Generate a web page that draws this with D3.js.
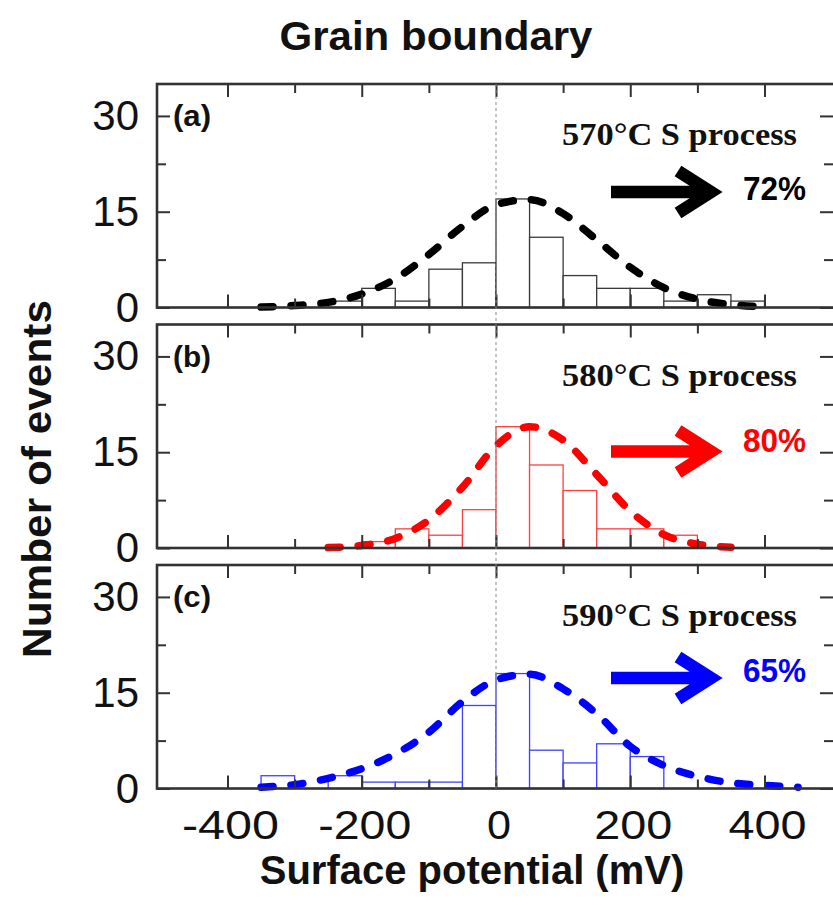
<!DOCTYPE html>
<html>
<head>
<meta charset="utf-8">
<script src="https://cdn.jsdelivr.net/npm/d3@7"></script>
<style>
  body { margin: 0; background: #fff; }
  svg { display: block; }
</style>
</head>
<body>
<script>
// histograms: 50 mV bins, value = number of events in the bin starting at binStart
const binStartA = [-250, -200, -150, -100, -50, 0, 50, 100, 150, 200, 250, 300, 350];
const countsA   = [1, 3, 1, 6, 7, 17, 11, 5, 3, 3, 1, 2, 1];
const binStartB = [-200, -150, -100, -50, 0, 50, 100, 150, 200, 250];
const countsB   = [1, 3, 2, 6, 19, 13, 9, 3, 3, 2];
const binStartC = [-350, -300, -250, -200, -150, -100, -50, 0, 50, 100, 150, 200];
const countsC   = [2, 0, 2, 1, 1, 1, 13, 18, 6, 4, 7, 5];

// dashed fit curves
const fitXA = [-350, -300, -250, -200, -150, -100, -50, 0, 50, 100, 150, 200, 250, 300, 350, 400];
const fitYA = [0.06, 0.3, 0.8, 2.1, 4.5, 8.3, 12.7, 16.1, 16.9, 14.7, 10.6, 6.3, 3.1, 1.3, 0.45, 0.1];
const fitXB = [-250, -200, -150, -100, -50, 0, 50, 100, 150, 200, 250, 300, 350];
const fitYB = [0.07, 0.4, 1.5, 4.4, 9.5, 16.0, 19.0, 16.9, 11.5, 5.8, 2.1, 0.6, 0.12];
const fitXC = [-350, -300, -250, -200, -150, -100, -50, 0, 50, 100, 150, 200, 250, 300, 350, 400, 450];
const fitYC = [0.2, 0.6, 1.6, 3.1, 5.4, 8.8, 13.6, 17.0, 17.9, 15.6, 11.7, 6.6, 3.6, 1.9, 0.9, 0.5, 0.2];

const panelLabels   = ["(a)", "(b)", "(c)"];
const processLabels = ["570°C S process", "580°C S process", "590°C S process"];
const percentLabels = ["72%", "80%", "65%"];

const xTickLabels = [-400, -200, 0, 200, 400];
const xTickAll    = [-400, -300, -200, -100, 0, 100, 200, 300, 400];
const yTickLabels = [0, 15, 30];
const yTickAll    = [0, 7.5, 15, 22.5, 30];

const binWidth = 50;

const width = 833, height = 905;
const left = 157, right = 835;
const panelTops = [84, 324.5, 565];
const panelH = 223.5;

const colors    = ["#000000", "#ff0000", "#0000ff"];
const barColors = ["#3a3a3a", "#ff4040", "#4040ff"];
const arrowDy   = [108, 127, 113];
const pctDy     = [116, 127, 117];

const panels = [
  { bins: binStartA, counts: countsA, fx: fitXA, fy: fitYA },
  { bins: binStartB, counts: countsB, fx: fitXB, fy: fitYB },
  { bins: binStartC, counts: countsC, fx: fitXC, fy: fitYC }
];

const svg = d3.select("body").append("svg")
  .attr("width", width)
  .attr("height", height);

const x = d3.scaleLinear().domain([-505, 505]).range([left, right]);

const sans = "Arial, 'Liberation Sans', sans-serif";
const serif = "'Times New Roman', 'Liberation Serif', serif";

panels.forEach((p, i) => {
  const top = panelTops[i], bottom = top + panelH;
  const y = d3.scaleLinear().domain([0, 35]).range([bottom, top]);
  const g = svg.append("g");

  const bars = p.bins.map((b, k) => ({ start: b, n: p.counts[k] })).filter(d => d.n > 0);
  g.selectAll("rect.bar")
    .data(bars)
    .join("rect")
    .attr("class", "bar")
    .attr("x", d => x(d.start))
    .attr("width", d => x(d.start + binWidth) - x(d.start))
    .attr("y", d => y(d.n))
    .attr("height", d => y(0) - y(d.n))
    .attr("fill", "#fff")
    .attr("stroke", barColors[i])
    .attr("stroke-width", 1.3);

  // fit curve
  const line = d3.line()
    .x(d => x(d[0]))
    .y(d => y(d[1]))
    .curve(d3.curveMonotoneX);
  g.append("path")
    .datum(p.fx.map((v, k) => [v, p.fy[k]]))
    .attr("d", line)
    .attr("fill", "none")
    .attr("stroke", colors[i])
    .attr("stroke-width", 7.5)
    .attr("stroke-linecap", "round")
    .attr("stroke-dasharray", "12,18");

  // ticks, all pointing inward
  const tickLen = (v, major) => (major.includes(v) ? 13 : 9);
  const xb = g.append("g").attr("transform", `translate(0,${bottom})`)
    .call(d3.axisBottom(x).tickValues(xTickAll).tickSize(-13).tickFormat(""));
  const xt = g.append("g").attr("transform", `translate(0,${top})`)
    .call(d3.axisTop(x).tickValues(xTickAll).tickSize(-13).tickFormat(""));
  [xb, xt].forEach((ax, j) => {
    ax.select(".domain").remove();
    ax.selectAll(".tick line")
      .attr("y2", d => (j === 0 ? -1 : 1) * tickLen(d, xTickLabels))
      .attr("stroke", "#333").attr("stroke-width", 2);
  });
  const yl = g.append("g").attr("transform", `translate(${left},0)`)
    .call(d3.axisLeft(y).tickValues(yTickAll).tickSize(-13).tickFormat(""));
  const yr = g.append("g").attr("transform", `translate(${right},0)`)
    .call(d3.axisRight(y).tickValues(yTickAll).tickSize(-15).tickFormat(""));
  [yl, yr].forEach((ax, j) => {
    ax.select(".domain").remove();
    ax.selectAll(".tick line")
      .attr("x2", d => (j === 0 ? 1 : -1) * (tickLen(d, yTickLabels) + (j === 1 ? 2 : 0)))
      .attr("stroke", "#333").attr("stroke-width", 2);
  });

  // frame
  g.append("rect")
    .attr("x", left).attr("y", top)
    .attr("width", right - left).attr("height", panelH)
    .attr("fill", "none")
    .attr("stroke", "#333")
    .attr("stroke-width", 2.6);

  // y tick labels
  g.selectAll("text.ylab")
    .data(yTickLabels)
    .join("text")
    .attr("class", "ylab")
    .attr("x", 139)
    .attr("y", d => y(d) + 14)
    .attr("text-anchor", "end")
    .attr("font-family", sans)
    .attr("font-size", 42)
    .attr("fill", "#111")
    .text(d => d);

  g.append("text")
    .attr("x", 173).attr("y", top + 42)
    .attr("font-family", sans).attr("font-weight", "bold")
    .attr("font-size", 30)
    .attr("textLength", 38).attr("lengthAdjust", "spacingAndGlyphs")
    .attr("fill", "#111")
    .text(panelLabels[i]);

  g.append("text")
    .attr("x", 562).attr("y", top + 61)
    .attr("font-family", serif).attr("font-weight", "bold")
    .attr("font-size", 31)
    .attr("textLength", 235).attr("lengthAdjust", "spacingAndGlyphs")
    .attr("fill", "#111")
    .text(processLabels[i]);

  // arrow
  const ay = top + arrowDy[i];
  g.append("path")
    .attr("d", `M611,${ay}L712,${ay}M678,${ay - 21}L711,${ay}L678,${ay + 21}`)
    .attr("fill", "none")
    .attr("stroke", colors[i])
    .attr("stroke-width", 12.5)
    .attr("stroke-linejoin", "miter");

  g.append("text")
    .attr("x", 743).attr("y", top + pctDy[i])
    .attr("font-family", sans).attr("font-weight", "bold")
    .attr("font-size", 33)
    .attr("textLength", 63).attr("lengthAdjust", "spacingAndGlyphs")
    .attr("fill", colors[i])
    .text(percentLabels[i]);
});

// dotted zero line across all three panels
svg.append("line")
  .attr("x1", x(0)).attr("x2", x(0))
  .attr("y1", panelTops[0]).attr("y2", panelTops[2] + panelH)
  .attr("stroke", "#888")
  .attr("stroke-width", 1)
  .attr("stroke-dasharray", "3,3");

// x tick labels under the last panel
const xLabW = { "-400": 97, "-200": 93, "0": 24, "200": 78, "400": 78 };
svg.selectAll("text.xlab")
  .data(xTickLabels)
  .join("text")
  .attr("class", "xlab")
  .attr("x", d => x(d) + 3)
  .attr("y", 839)
  .attr("text-anchor", "middle")
  .attr("font-family", sans)
  .attr("font-size", 40)
  .attr("textLength", d => xLabW[d])
  .attr("lengthAdjust", "spacingAndGlyphs")
  .attr("fill", "#111")
  .text(d => d);

svg.append("text")
  .attr("x", 472).attr("y", 884)
  .attr("text-anchor", "middle")
  .attr("font-family", sans).attr("font-weight", "bold")
  .attr("font-size", 40)
  .attr("fill", "#111")
  .text("Surface potential (mV)");

svg.append("text")
  .attr("transform", "translate(51,479) rotate(-90)")
  .attr("text-anchor", "middle")
  .attr("font-family", sans).attr("font-weight", "bold")
  .attr("font-size", 40)
  .attr("textLength", 358).attr("lengthAdjust", "spacingAndGlyphs")
  .attr("fill", "#111")
  .text("Number of events");

svg.append("text")
  .attr("x", 436).attr("y", 50)
  .attr("text-anchor", "middle")
  .attr("font-family", sans).attr("font-weight", "bold")
  .attr("font-size", 40)
  .attr("textLength", 313).attr("lengthAdjust", "spacingAndGlyphs")
  .attr("fill", "#111")
  .text("Grain boundary");
</script>
</body>
</html>
